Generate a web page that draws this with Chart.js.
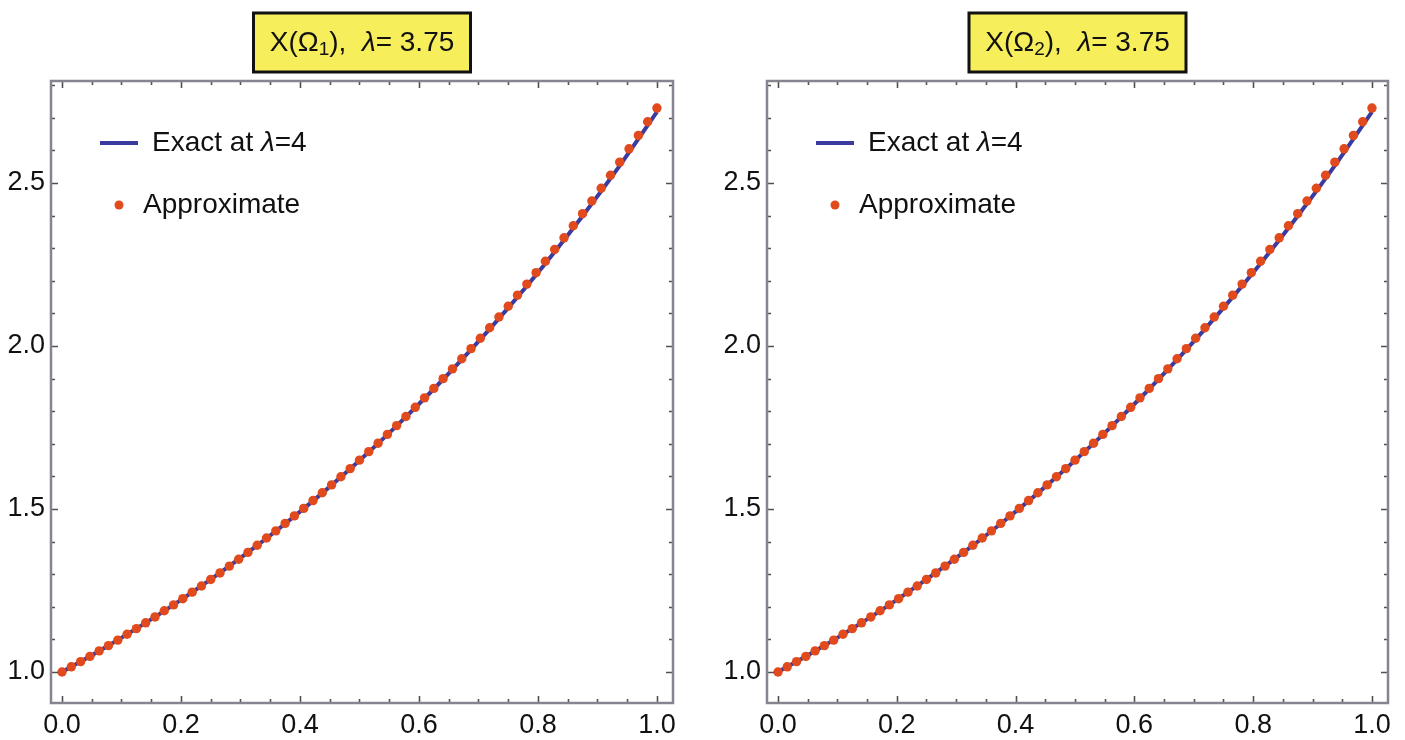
<!DOCTYPE html>
<html>
<head>
<meta charset="utf-8">
<script src="https://cdn.jsdelivr.net/npm/chart.js@4.4.1/dist/chart.umd.min.js"></script>
<style>
  html, body { margin: 0; padding: 0; background: #fff; }
  #wrap { position: relative; width: 1405px; height: 740px; overflow: hidden; }
  canvas { position: absolute; top: 0; }
</style>
</head>
<body>
<div id="wrap">
  <canvas id="c1" width="700" height="740" style="left:0px"></canvas>
  <canvas id="c2" width="705" height="740" style="left:700px"></canvas>
</div>
<script>
// ── 数据 ──
const approxX = [
  0, 0.0156, 0.0313, 0.0469, 0.0625, 0.0781, 0.0938, 0.1094, 0.125, 0.1406,
  0.1563, 0.1719, 0.1875, 0.2031, 0.2188, 0.2344, 0.25, 0.2656, 0.2813, 0.2969,
  0.3125, 0.3281, 0.3438, 0.3594, 0.375, 0.3906, 0.4063, 0.4219, 0.4375, 0.4531,
  0.4688, 0.4844, 0.5, 0.5156, 0.5313, 0.5469, 0.5625, 0.5781, 0.5938, 0.6094,
  0.625, 0.6406, 0.6563, 0.6719, 0.6875, 0.7031, 0.7188, 0.7344, 0.75, 0.7656,
  0.7813, 0.7969, 0.8125, 0.8281, 0.8438, 0.8594, 0.875, 0.8906, 0.9063, 0.9219,
  0.9375, 0.9531, 0.9688, 0.9844, 1
];
const approxY = [
  1.000, 1.016, 1.032, 1.048, 1.065, 1.081, 1.098, 1.116, 1.133, 1.151,
  1.169, 1.188, 1.206, 1.225, 1.245, 1.264, 1.284, 1.304, 1.325, 1.346,
  1.367, 1.389, 1.411, 1.433, 1.456, 1.479, 1.502, 1.526, 1.550, 1.574,
  1.599, 1.624, 1.650, 1.676, 1.702, 1.729, 1.756, 1.784, 1.812, 1.841,
  1.870, 1.900, 1.930, 1.961, 1.992, 2.024, 2.056, 2.089, 2.122, 2.156,
  2.190, 2.225, 2.260, 2.296, 2.332, 2.369, 2.406, 2.445, 2.484, 2.524,
  2.564, 2.605, 2.646, 2.688, 2.730
];
const exactX = [0, 0.0625, 0.125, 0.1875, 0.25, 0.3125, 0.375, 0.4375, 0.5,
  0.5625, 0.625, 0.6875, 0.75, 0.8125, 0.875, 0.9375, 1];
const exactY = [1.0000, 1.0645, 1.1331, 1.2062, 1.2840, 1.3668, 1.4550, 1.5488, 1.6487,
  1.7551, 1.8682, 1.9887, 2.1170, 2.2535, 2.3989, 2.5536, 2.7183];

const panelSubs   = ['1', '2'];
const lambdaText  = '3.75';
const legendExact = ['Exact at ', 'λ', '=4'];
const legendApprox = 'Approximate';

const xMajor = [0, 0.2, 0.4, 0.6, 0.8, 1.0];
const yMajor = [1.0, 1.5, 2.0, 2.5];
const xMinor = [0, 0.05, 0.1, 0.15, 0.2, 0.25, 0.3, 0.35, 0.4, 0.45, 0.5,
  0.55, 0.6, 0.65, 0.7, 0.75, 0.8, 0.85, 0.9, 0.95, 1.0];
const yMinor = [1.0, 1.1, 1.2, 1.3, 1.4, 1.5, 1.6, 1.7, 1.8, 1.9, 2.0,
  2.1, 2.2, 2.3, 2.4, 2.5, 2.6, 2.7, 2.8];

const LINE_COLOR = '#3b3a9f';
const DOT_COLOR  = '#e04a1c';
const FONT = '"Liberation Sans", Arial, Helvetica, sans-serif';

// ── 按段绘制文字（支持下标/斜体）──
function drawRuns(ctx, runs, x, y) {
  let cx = x;
  runs.forEach(r => {
    ctx.font = r.font;
    ctx.fillText(r.t, cx, y + (r.dy || 0));
    cx += ctx.measureText(r.t).width;
  });
  return cx;
}
function runsWidth(ctx, runs) {
  let w = 0;
  runs.forEach(r => { ctx.font = r.font; w += ctx.measureText(r.t).width; });
  return w;
}

// ── 边框、刻度、标题、图例 ──
const framePlugin = {
  id: 'frame',
  beforeDraw(chart) {
    const ctx = chart.ctx;
    ctx.save();
    ctx.fillStyle = '#fff';
    ctx.fillRect(0, 0, chart.width, chart.height);
    ctx.restore();
  },
  afterDraw(chart, args, opts) {
    const { ctx, chartArea: a, scales: { x, y } } = chart;
    ctx.save();

    // 刻度线（四边向内）
    ctx.strokeStyle = '#505050';
    ctx.lineWidth = 1.6;
    ctx.beginPath();
    xMinor.forEach((v, k) => {
      const px = Math.round(x.getPixelForValue(v)) + 0.5;
      const len = k % 4 === 0 ? 7 : 4;
      ctx.moveTo(px, a.bottom); ctx.lineTo(px, a.bottom - len);
      ctx.moveTo(px, a.top);    ctx.lineTo(px, a.top + len);
    });
    yMinor.forEach((v, k) => {
      const py = Math.round(y.getPixelForValue(v)) + 0.5;
      const len = k % 5 === 0 ? 7 : 4;
      ctx.moveTo(a.left, py);  ctx.lineTo(a.left + len, py);
      ctx.moveTo(a.right, py); ctx.lineTo(a.right - len, py);
    });
    ctx.stroke();

    // 外框
    ctx.strokeStyle = '#858590';
    ctx.lineWidth = 2.5;
    ctx.strokeRect(a.left, a.top, a.right - a.left, a.bottom - a.top);

    // 标题（黄色框）
    const big = '28px ' + FONT;
    const titleRuns = [
      { t: 'X(Ω', font: big },
      { t: opts.sub, font: '19px ' + FONT, dy: 6 },
      { t: '),  ', font: big },
      { t: 'λ', font: 'italic ' + big },
      { t: '= ' + lambdaText, font: big }
    ];
    const cx = (a.left + a.right) / 2;
    const bw = 217, bh = 59, bt = 13;
    ctx.fillStyle = '#f7ee5c';
    ctx.fillRect(cx - bw / 2, bt, bw, bh);
    ctx.strokeStyle = '#111';
    ctx.lineWidth = 3;
    ctx.strokeRect(cx - bw / 2, bt, bw, bh);
    ctx.fillStyle = '#111';
    ctx.textBaseline = 'middle';
    const tw = runsWidth(ctx, titleRuns);
    drawRuns(ctx, titleRuns, cx - tw / 2, bt + bh / 2 + 1);

    // 图例
    const lf = '28px ' + FONT;
    ctx.strokeStyle = LINE_COLOR;
    ctx.lineWidth = 4;
    ctx.beginPath();
    ctx.moveTo(a.left + 49, a.top + 62);
    ctx.lineTo(a.left + 87, a.top + 62);
    ctx.stroke();
    ctx.fillStyle = '#111';
    drawRuns(ctx, [
      { t: legendExact[0], font: lf },
      { t: legendExact[1], font: 'italic ' + lf },
      { t: legendExact[2], font: lf }
    ], a.left + 101, a.top + 62);

    ctx.fillStyle = DOT_COLOR;
    ctx.beginPath();
    ctx.arc(a.left + 68, a.top + 124, 4.5, 0, Math.PI * 2);
    ctx.fill();
    ctx.fillStyle = '#111';
    drawRuns(ctx, [{ t: legendApprox, font: lf }], a.left + 92, a.top + 124);

    ctx.restore();
  }
};

function makeChart(id, sub, yAxisW, padRight) {
  const approxPts = approxX.map((v, i) => ({ x: v, y: approxY[i] }));
  const exactPts  = exactX.map((v, i) => ({ x: v, y: exactY[i] }));
  return new Chart(document.getElementById(id), {
    type: 'scatter',
    data: {
      datasets: [
        {
          label: 'Approximate',
          data: approxPts,
          pointRadius: 4.7,
          pointBackgroundColor: DOT_COLOR,
          pointBorderWidth: 0,
          showLine: false
        },
        {
          label: 'Exact at λ=4',
          data: exactPts,
          showLine: true,
          borderColor: LINE_COLOR,
          borderWidth: 4,
          pointRadius: 0,
          cubicInterpolationMode: 'monotone'
        }
      ]
    },
    options: {
      responsive: false,
      animation: false,
      devicePixelRatio: 1,
      layout: { padding: { left: 0, top: 81, right: padRight, bottom: 0 } },
      plugins: {
        legend: { display: false },
        tooltip: { enabled: false },
        frame: { sub: sub }
      },
      scales: {
        x: {
          type: 'linear',
          min: -0.0185,
          max: 1.027,
          afterBuildTicks: s => { s.ticks = xMajor.map(v => ({ value: v })); },
          afterFit: s => { s.height = 37; },
          grid: { display: false, drawTicks: false },
          border: { display: false },
          ticks: {
            autoSkip: false, maxRotation: 0, padding: 6,
            color: '#111', font: { family: FONT, size: 27 },
            callback: v => Number(v).toFixed(1)
          }
        },
        y: {
          type: 'linear',
          min: 0.905,
          max: 2.813,
          afterBuildTicks: s => { s.ticks = yMajor.map(v => ({ value: v })); },
          afterFit: s => { s.width = yAxisW; },
          grid: { display: false, drawTicks: false },
          border: { display: false },
          ticks: {
            padding: 6,
            color: '#111', font: { family: FONT, size: 27 },
            callback: v => Number(v).toFixed(1)
          }
        }
      }
    },
    plugins: [framePlugin]
  });
}

makeChart('c1', panelSubs[0], 51, 27);
makeChart('c2', panelSubs[1], 67, 17);
</script>
</body>
</html>
